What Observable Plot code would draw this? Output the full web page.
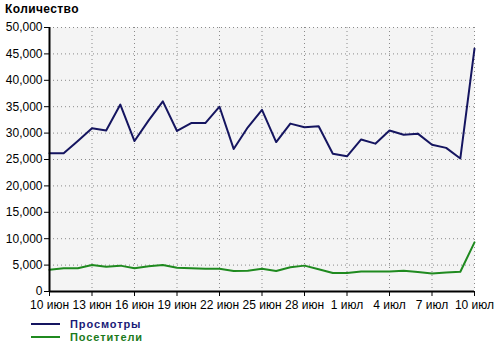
<!DOCTYPE html>
<html>
<head>
<meta charset="utf-8">
<script src="https://cdn.jsdelivr.net/npm/d3@7"></script>
<script src="https://cdn.jsdelivr.net/npm/@observablehq/plot@0.6"></script>
<style>
  body { margin: 0; background: #fff; }
  #wrap { position: relative; width: 500px; height: 355px; overflow: hidden; font-family: "Liberation Sans", Arial, sans-serif; }
  #title { position: absolute; left: 5px; top: 2px; font-weight: bold; font-size: 12px; line-height: 14px; letter-spacing: 0.4px; color: #000; }
  #chart { position: absolute; left: 0; top: 0; }
  .leg { position: absolute; left: 31px; font-weight: bold; font-size: 11px; line-height: 12px; height: 12px; letter-spacing: 0.9px; display: flex; align-items: center; }
  .leg .sw { width: 29px; height: 0; border-top: 2px solid; margin-right: 10px; }
</style>
</head>
<body>
<div id="wrap">
  <div id="chart"></div>
  <div id="title">Количество</div>
  <div class="leg" id="leg1" style="top:318px;color:#1a1a78"><span class="sw" style="border-color:#151560"></span>Просмотры</div>
  <div class="leg" id="leg2" style="top:331px;color:#1b7a1b"><span class="sw" style="border-color:#1f8a1f"></span>Посетители</div>
</div>
<script>
// categories: days 10 June .. 10 July
const dates = d3.utcDay.range(new Date(Date.UTC(2010, 5, 10)), new Date(Date.UTC(2010, 6, 11)));

// series values
const views = [26200, 26200, 28500, 30900, 30500, 35400, 28500, 32400, 36000, 30400,
               31900, 31900, 35000, 27000, 31100, 34400, 28300, 31800, 31100, 31300,
               26100, 25600, 28800, 28000, 30500, 29700, 29900, 27800, 27200, 25200, 46000];
const visitors = [4100, 4400, 4400, 5000, 4700, 4900, 4400, 4800, 5000, 4500,
                  4400, 4300, 4300, 3900, 3950, 4300, 3900, 4600, 4900, 4200,
                  3500, 3500, 3800, 3800, 3800, 3950, 3700, 3400, 3600, 3750, 9300];

// tick labels
const xTickLabels = ["10 июн", "13 июн", "16 июн", "19 июн", "22 июн", "25 июн", "28 июн", "1 июл", "4 июл", "7 июл", "10 июл"];
const yTicks = [0, 5000, 10000, 15000, 20000, 25000, 30000, 35000, 40000, 45000, 50000];

const xTickDates = dates.filter((d, i) => i % 3 === 0);
const labelMap = new Map(xTickDates.map((d, i) => [+d, xTickLabels[i]]));
const rows = dates.map((d, i) => ({date: d, views: views[i], visitors: visitors[i]}));

const grid = {stroke: "#8a8a8a", strokeOpacity: 1, strokeWidth: 1, strokeDasharray: "1,3"};

const chart = Plot.plot({
  width: 500,
  height: 318,
  marginLeft: 49,
  marginRight: 26,
  marginTop: 27,
  marginBottom: 27,
  x: {type: "utc", domain: [dates[0], dates[dates.length - 1]]},
  y: {domain: [0, 50000]},
  style: {fontFamily: "Liberation Sans, Arial, sans-serif", fontSize: "12px", color: "#000", background: "transparent"},
  marks: [
    Plot.frame({fill: "#f4f4f4", stroke: null}),
    Plot.gridY(yTicks.slice(1), grid),
    Plot.gridX(xTickDates.slice(1), grid),
    Plot.line(rows, {x: "date", y: "visitors", stroke: "#1f8a1f", strokeWidth: 2}),
    Plot.line(rows, {x: "date", y: "views", stroke: "#151560", strokeWidth: 2}),
    Plot.axisY(yTicks, {tickSize: 5, tickPadding: 2, tickFormat: d3.format(","), label: null}),
    Plot.axisX(xTickDates, {tickSize: 5, tickPadding: 4, tickFormat: d => labelMap.get(+d), label: null}),
    Plot.ruleX([dates[0]], {stroke: "#000", strokeWidth: 2}),
    Plot.ruleY([0], {stroke: "#000", strokeWidth: 2})
  ]
});
document.getElementById("chart").appendChild(chart);
</script>
</body>
</html>
